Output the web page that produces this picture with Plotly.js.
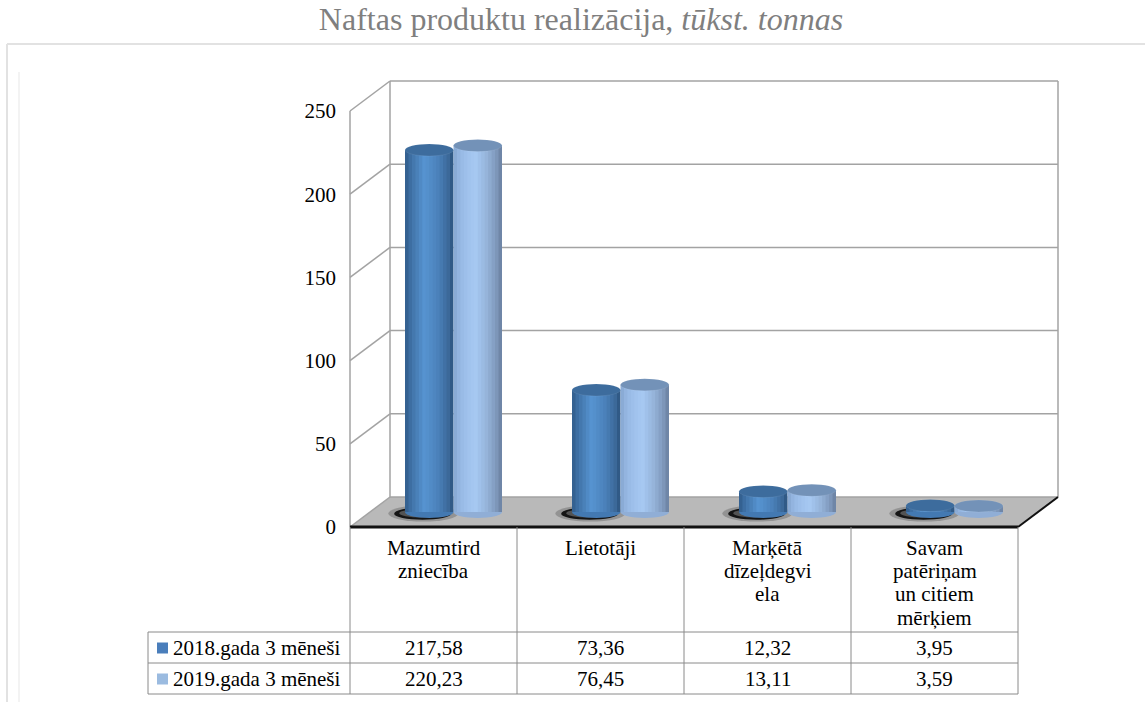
<!DOCTYPE html>
<html><head><meta charset="utf-8">
<script src="https://cdn.plot.ly/plotly-3.0.1.min.js"></script>
<style>html,body{margin:0;padding:0;background:#fff}#chart{width:1145px;height:702px}</style>
</head><body><div id="chart"></div>
<script>
// ---------- data ----------
const categories = ["Mazumtird<br>zniecība", "Lietotāji", "Marķētā<br>dīzeļdegvi<br>ela", "Savam<br>patēriņam<br>un citiem<br>mērķiem"];
const seriesNames = ["2018.gada 3 mēneši", "2019.gada 3 mēneši"];
const values2018 = [217.58, 73.36, 12.32, 3.95];
const values2019 = [220.23, 76.45, 13.11, 3.59];
const yTicks = [0, 50, 100, 150, 200, 250];
const chartTitle = "Naftas produktu realizācija, <i>tūkst. tonnas</i>";

// ---------- geometry / style ----------
const FONT = "'Liberation Serif', 'Times New Roman', Times, 'DejaVu Serif', serif";
const L = 345, R = 1062, T = 76, B = 532;        // plot area in px
const FZ = 527, PY = 1.664;                       // front zero px, px per unit
const FL = 350, PX = 167;                         // front-left px, px per category
const xu = px => (px - FL) / PX - 0.5;
const pX = px => (px - L) / (R - L);
const pY = py => (B - py) / (B - T);
const DX = 40 / PX, DY = 30 / PY;                 // depth offset in data units
const DXh = DX / 2, DYh = DY / 2;
const W = 48.5 / PX;                              // cylinder width
const EH = 6 / PY;                                // ellipse half height
const offsets = [DXh - W, DXh];
const series = [values2018, values2019];
const idx = categories.map((c, i) => i);
const FX0 = -0.5, FX1 = categories.length - 0.5;

const stops = [
  [[0,'#2f5b88'],[0.12,'#3f70a5'],[0.4,'#5794d1'],[0.7,'#4a80b8'],[0.9,'#3b6898'],[1,'#2c527c']],
  [[0,'#86a6d0'],[0.15,'#98bae5'],[0.45,'#a7c9f3'],[0.7,'#94b2d8'],[0.9,'#7c95b8'],[1,'#687e9d']]
];
const topColors = ['#3d6c9d', '#7392b8'];
const bottomColors = ['#4379b2', '#90aed6'];
const legendColors = ['#4a7ebb', '#9bbbe0'];

function hex2rgb(h){return [1,3,5].map(i=>parseInt(h.substr(i,2),16));}
function shade(st, t){
  for(let i=0;i<st.length-1;i++){
    const [t0,c0]=st[i],[t1,c1]=st[i+1];
    if(t>=t0 && t<=t1){
      const f=(t-t0)/(t1-t0), a=hex2rgb(c0), b=hex2rgb(c1);
      return 'rgb('+a.map((v,j)=>Math.round(v+(b[j]-v)*f)).join(',')+')';
    }
  }
  return st[st.length-1][1];
}

// ---------- traces: cylinders as striped bars ----------
const N = 14, sw = W / N;
const traces = [];
series.forEach((vals, s) => {
  for (let k = 0; k < N; k++) {
    traces.push({
      type: 'bar', x: idx, y: vals, base: DYh,
      width: sw + (k < N - 1 ? sw * 0.6 : 0), offset: offsets[s] + k * sw,
      marker: {color: shade(stops[s], (k + 0.5) / N), line: {width: 0}},
      hoverinfo: 'skip', showlegend: false
    });
  }
});

// ---------- shapes ----------
const shapes = [];
const gray = '#a3a3a3';
// outer frame
shapes.push({type:'line', xref:'paper', yref:'paper', x0:pX(7), x1:pX(1145), y0:pY(44), y1:pY(44), line:{color:'#e2e2e2', width:2}});
shapes.push({type:'line', xref:'paper', yref:'paper', x0:pX(7), x1:pX(7), y0:pY(44), y1:pY(702), line:{color:'#e2e2e2', width:2}});
shapes.push({type:'line', xref:'paper', yref:'paper', x0:pX(19), x1:pX(19), y0:pY(72), y1:pY(702), line:{color:'#f3f3f3', width:2}});
// floor
shapes.push({type:'path', xref:'x', yref:'y', layer:'below',
  path:`M ${FX0},0 L ${FX1},0 L ${FX1+DX},${DY} L ${FX0+DX},${DY} Z`, fillcolor:'#b9b9b9', line:{width:0}});
// back wall gridlines, side diagonals
yTicks.forEach(v => {
  shapes.push({type:'line', xref:'x', yref:'y', layer:'below', x0:FX0+DX, x1:FX1+DX, y0:v+DY, y1:v+DY, line:{color:gray, width:1.5}});
  shapes.push({type:'line', xref:'x', yref:'y', layer:'below', x0:FX0, x1:FX0+DX, y0:v, y1:v+DY, line:{color:gray, width:1.5}});
});
const yMax = yTicks[yTicks.length-1];
shapes.push({type:'line', xref:'x', yref:'y', layer:'below', x0:FX0, x1:FX0, y0:0, y1:yMax, line:{color:gray, width:1.5}});
shapes.push({type:'line', xref:'x', yref:'y', layer:'below', x0:FX0+DX, x1:FX0+DX, y0:DY, y1:yMax+DY, line:{color:gray, width:1.5}});
shapes.push({type:'line', xref:'x', yref:'y', layer:'below', x0:FX1+DX, x1:FX1+DX, y0:DY, y1:yMax+DY, line:{color:gray, width:1.5}});
// floor front and right edges
shapes.push({type:'line', xref:'x', yref:'y', x0:FX0, x1:FX1, y0:0, y1:0, line:{color:'#111', width:3}});
shapes.push({type:'line', xref:'x', yref:'y', x0:FX1, x1:FX1+DX, y0:0, y1:DY, line:{color:'#111', width:2}});
// shadows and bottom caps
idx.forEach(i => {
  const x0 = i + offsets[0];
  shapes.push({type:'circle', xref:'x', yref:'y', layer:'below', x0:x0-0.1, x1:x0+W*1.1, y0:DYh-EH*1.6, y1:DYh+EH*1.1, fillcolor:'rgba(60,60,60,0.3)', line:{width:0}});
  shapes.push({type:'circle', xref:'x', yref:'y', layer:'below', x0:x0-0.065, x1:x0+W*0.95, y0:DYh-EH*1.3, y1:DYh+EH*0.75, fillcolor:'#151515', line:{width:0}});
  shapes.push({type:'circle', xref:'x', yref:'y', layer:'below', x0:x0-0.035, x1:x0+W*0.8, y0:DYh-EH*0.9, y1:DYh+EH*0.5, fillcolor:'rgba(90,90,90,0.9)', line:{width:0}});
  series.forEach((vals, s) => {
    const a = i + offsets[s];
    shapes.push({type:'circle', xref:'x', yref:'y', layer:'below', x0:a, x1:a+W, y0:DYh-EH, y1:DYh+EH, fillcolor:bottomColors[s], line:{width:0}});
  });
});
// top caps
idx.forEach(i => {
  series.forEach((vals, s) => {
    const a = i + offsets[s], top = DYh + vals[i];
    shapes.push({type:'circle', xref:'x', yref:'y', x0:a, x1:a+W, y0:top-EH, y1:top+EH, fillcolor:topColors[s], line:{color:'rgba(255,255,255,0.15)', width:0.5}});
  });
});
// data table
const tcol = '#8a8a8a';
const rowLines = [632, 663, 694];
rowLines.forEach(py => shapes.push({type:'line', xref:'paper', yref:'paper', x0:pX(148), x1:pX(FL + PX*categories.length), y0:pY(py), y1:pY(py), line:{color:tcol, width:1}}));
for (let i = 0; i <= categories.length; i++) {
  shapes.push({type:'line', xref:'x', yref:'paper', x0:FX0+i, x1:FX0+i, y0:pY(FZ), y1:pY(694), line:{color:tcol, width:1}});
}
shapes.push({type:'line', xref:'paper', yref:'paper', x0:pX(148), x1:pX(148), y0:pY(632), y1:pY(694), line:{color:tcol, width:1}});
const rowCenters = [648, 679];
seriesNames.forEach((n, s) => {
  shapes.push({type:'rect', xref:'paper', yref:'paper', x0:pX(157), x1:pX(168), y0:pY(rowCenters[s]-5.5), y1:pY(rowCenters[s]+5.5), fillcolor:legendColors[s], line:{width:0}});
});

// ---------- annotations ----------
const annotations = [];
categories.forEach((c, i) => {
  c.split('<br>').forEach((line, j) => {
    annotations.push({xref:'x', yref:'paper', x:i, y:pY(548 + j*23.2), text:line, showarrow:false, xanchor:'center', yanchor:'middle', font:{family:FONT, size:21, color:'#000'}});
  });
});
const fmt = v => v.toFixed(2).replace('.', ',');
series.forEach((vals, s) => {
  vals.forEach((v, i) => annotations.push({xref:'x', yref:'paper', x:i, y:pY(rowCenters[s]), text:fmt(v), showarrow:false, xanchor:'center', yanchor:'middle', font:{family:FONT, size:21, color:'#000'}}));
  annotations.push({xref:'paper', yref:'paper', x:pX(171), y:pY(rowCenters[s]), text:seriesNames[s], showarrow:false, xanchor:'left', yanchor:'middle', font:{family:FONT, size:21, color:'#000'}});
});

const layout = {
  width: 1145, height: 702,
  font: {family: FONT},
  margin: {l: L, r: 1145 - R, t: T, b: 702 - B, pad: 0},
  paper_bgcolor: '#fff', plot_bgcolor: 'rgba(0,0,0,0)',
  barmode: 'overlay', showlegend: false,
  title: {text: chartTitle, font: {family: FONT, size: 32, color: '#7f7f7f'}, x: 581/1145, xanchor: 'center', xref: 'container', y: 1 - 19/702, yanchor: 'middle', yref: 'container'},
  xaxis: {range: [xu(L), xu(R)], visible: false, fixedrange: true},
  yaxis: {range: [(FZ - B)/PY, (FZ - T)/PY], tickvals: yTicks, ticktext: yTicks.map(String), showgrid: false, zeroline: false, showline: false, ticks: '', ticklabelstandoff: 8,
          tickfont: {family: FONT, size: 21, color: '#000'}, fixedrange: true},
  shapes: shapes, annotations: annotations
};
Plotly.newPlot('chart', traces, layout, {displayModeBar: false, staticPlot: true});
</script></body></html>
